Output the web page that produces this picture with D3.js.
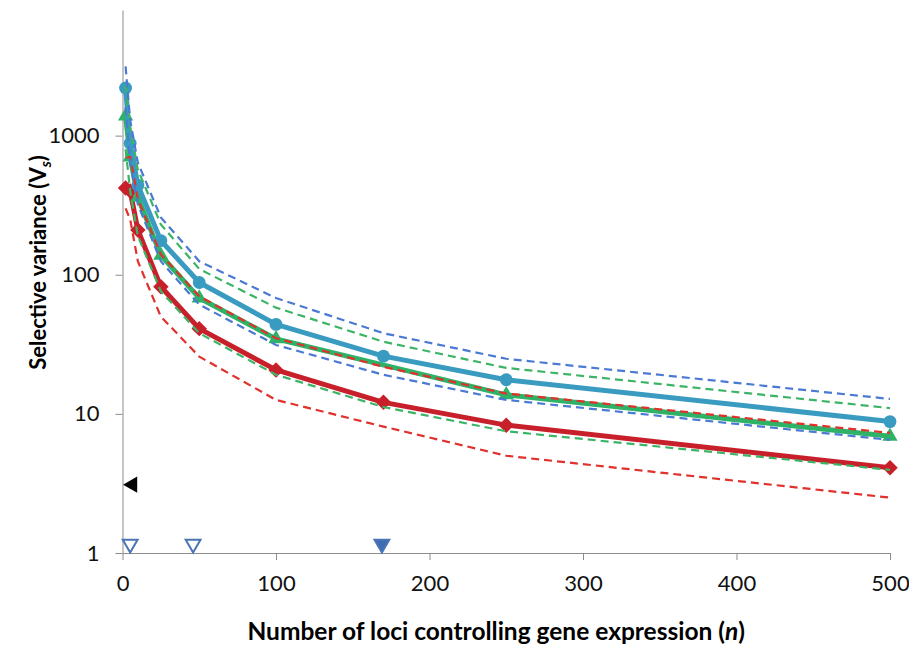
<!DOCTYPE html>
<html>
<head>
<meta charset="utf-8">
<script src="https://cdn.jsdelivr.net/npm/d3@7"></script>
<style>
  body { margin: 0; background: #fff; }
  svg { display: block; }
  .axis text { font-family: Lato, "Open Sans", sans-serif; font-size: 22px; fill: #111; }
  .axis path, .axis line { stroke: #8c8c8c; }
  .title { font-family: Lato, "Open Sans", sans-serif; font-weight: bold; font-size: 22px; fill: #000; }
</style>
</head>
<body>
<svg id="chart"></svg>
<script>
// number of loci (x) for each series
const nAll = [2, 5, 10, 25, 50, 100, 170, 250, 500];
const nGreen = [2, 5, 10, 25, 50, 100, 250, 500];

// solid series (mean)
const blueMean = [2200, 880, 440, 176, 88, 44, 26, 17.6, 8.8];
const greenMean = [1380, 700, 360, 138, 68, 34.6, 13.7, 6.9];
const redMean = [420, 400, 210, 82, 41, 20.7, 12.1, 8.3, 4.1];

// dashed series (bounds)
const blueUpper = [3150, 1290, 640, 258, 125, 68, 38, 24.9, 12.8];
const blueLower = [1600, 640, 320, 125, 61, 31.3, 19.1, 12.6, 6.5];
const greenUpper = [2300, 1150, 570, 230, 110, 58, 33, 21.4, 11.0];
const greenLower = [800, 400, 190, 76, 38, 19.1, 11.2, 7.5, 3.96];
const redUpper = [700, 700, 350, 140, 70, 35, 21.8, 14, 7.3];
const redLower = [300, 250, 125, 50, 25.8, 12.6, 8.1, 5.0, 2.5];

// markers along the axes
const refLoci = [5, 46, 169];
const refFilled = [false, false, true];
const refVs = 3.1;

const xTicks = [0, 100, 200, 300, 400, 500];
const yTicks = [1, 10, 100, 1000];

const width = 909;
const height = 650;
const margin = {top: 10, right: 19, bottom: 97, left: 122.5};

const svg = d3.select('#chart')
  .attr('width', width)
  .attr('height', height);

const x = d3.scaleLinear()
  .domain([0, 500])
  .range([margin.left, width - margin.right]);

const y = d3.scaleLog()
  .domain([1, 8000])
  .range([height - margin.bottom, margin.top]);

// axes
svg.append('g')
  .attr('class', 'axis')
  .attr('transform', 'translate(0,' + (height - margin.bottom) + ')')
  .call(d3.axisBottom(x).tickValues(xTicks).tickSize(7).tickSizeOuter(0).tickPadding(15));

svg.append('g')
  .attr('class', 'axis')
  .attr('transform', 'translate(' + margin.left + ',0)')
  .call(d3.axisLeft(y).tickValues(yTicks).tickFormat(d3.format('d')).tickSize(7).tickSizeOuter(0).tickPadding(16));

const line = d3.line()
  .x(d => x(d[0]))
  .y(d => y(d[1]));

function pairs(ns, vs) {
  return ns.map((n, i) => [n, vs[i]]);
}

const solid = [
  {name: 'red', color: '#c8202a', data: pairs(nAll, redMean), shape: 'diamond'},
  {name: 'green', color: '#2eb267', data: pairs(nGreen, greenMean), shape: 'triangle'},
  {name: 'blue', color: '#3a9bc1', data: pairs(nAll, blueMean), shape: 'circle'}
];

const dashed = [
  {color: '#e0312c', data: pairs(nAll, redLower)},
  {color: '#e0312c', data: pairs(nAll, redUpper)},
  {color: '#3cb466', data: pairs(nAll, greenLower)},
  {color: '#3cb466', data: pairs(nAll, greenUpper)},
  {color: '#4a7ad4', data: pairs(nAll, blueLower)},
  {color: '#4a7ad4', data: pairs(nAll, blueUpper)}
];

solid.forEach(function (s) {
  svg.append('path')
    .datum(s.data)
    .attr('fill', 'none')
    .attr('stroke', s.color)
    .attr('stroke-width', 5)
    .attr('stroke-linejoin', 'round')
    .attr('d', line);

  const sym = s.shape === 'circle' ? d3.symbol(d3.symbolCircle, 130)
    : s.shape === 'triangle' ? d3.symbol(d3.symbolTriangle, 100)
    : d3.symbol(d3.symbolSquare, 120);

  svg.append('g').selectAll('path')
    .data(s.data)
    .enter()
    .append('path')
    .attr('d', sym)
    .attr('fill', s.color)
    .attr('transform', function (d) {
      return 'translate(' + x(d[0]) + ',' + y(d[1]) + ')' +
        (s.shape === 'diamond' ? ' rotate(45)' : '');
    });
});

dashed.forEach(function (s) {
  svg.append('path')
    .datum(s.data)
    .attr('fill', 'none')
    .attr('stroke', s.color)
    .attr('stroke-width', 2.2)
    .attr('stroke-dasharray', '8,5')
    .attr('d', line);
});

// reference triangles on the x axis
svg.append('g').selectAll('path')
  .data(refLoci)
  .enter()
  .append('path')
  .attr('d', d3.symbol(d3.symbolTriangle, 95))
  .attr('fill', (d, i) => refFilled[i] ? '#3f6db3' : '#fff')
  .attr('stroke', '#4a74b6')
  .attr('stroke-width', 2)
  .attr('transform', d => 'translate(' + x(d) + ',' + (y(1) - 9) + ') rotate(180)');

// black arrow on the y axis
svg.append('path')
  .attr('d', d3.symbol(d3.symbolTriangle, 115))
  .attr('fill', '#000')
  .attr('transform', 'translate(' + (x(0) + 10) + ',' + y(refVs) + ') rotate(-90)');

// axis titles
const xTitle = svg.append('text')
  .attr('class', 'title')
  .style('font-size', '24.5px')
  .attr('x', (x.range()[0] + x.range()[1]) / 2 - 10)
  .attr('y', height - 10)
  .attr('text-anchor', 'middle');
xTitle.append('tspan').text('Number of loci controlling gene expression (');
xTitle.append('tspan').style('font-style', 'italic').text('n');
xTitle.append('tspan').text(')');

const yTitle = svg.append('text')
  .attr('class', 'title')
  .attr('text-anchor', 'middle')
  .attr('transform', 'translate(46,' + ((y.range()[0] + y.range()[1]) / 2 - 19) + ') rotate(-90)');
yTitle.append('tspan').text('Selective variance (V');
yTitle.append('tspan').style('font-style', 'italic').style('font-size', '15px').attr('dy', 5).text('s');
yTitle.append('tspan').attr('dy', -5).text(')');
</script>
</body>
</html>
